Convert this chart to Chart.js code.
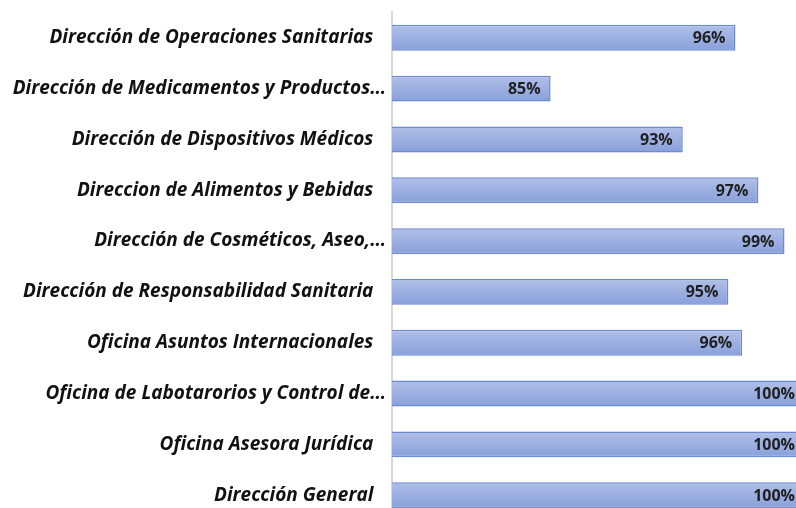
<!DOCTYPE html>
<html>
<head>
<meta charset="utf-8">
<script src="https://cdn.jsdelivr.net/npm/chart.js@4/dist/chart.umd.min.js"></script>
<style>
  html, body { margin: 0; padding: 0; background: #fff; overflow: hidden; }
  #avance { display: block; margin-top: -5px; }
</style>
</head>
<body>
<canvas id="avance" width="806" height="543"></canvas>
<script>
// categorias (de arriba hacia abajo)
const dependencias = [
  'Dirección de Operaciones Sanitarias',
  'Dirección de Medicamentos y Productos…',
  'Dirección de Dispositivos Médicos',
  'Direccion de Alimentos y Bebidas',
  'Dirección de Cosméticos, Aseo,…',
  'Dirección de Responsabilidad Sanitaria',
  'Oficina Asuntos Internacionales',
  'Oficina de Labotarorios y Control de…',
  'Oficina Asesora Jurídica',
  'Dirección General'
];
// cumplimiento (fraccion)
const cumplimiento = [0.9579, 0.8460, 0.9260, 0.9718, 0.9876, 0.9536, 0.9620, 1.0, 1.0, 1.0];
// etiquetas que se muestran en la barra
const etiquetas = ['96%', '85%', '93%', '97%', '99%', '95%', '96%', '100%', '100%', '100%'];

// etiquetas de valor dentro del final de la barra
const valorLabels = {
  id: 'valorLabels',
  afterDatasetsDraw(chart) {
    const ctx = chart.ctx;
    const meta = chart.getDatasetMeta(0);
    ctx.save();
    ctx.font = 'bold 16px "Open Sans", sans-serif';
    ctx.fillStyle = '#1f1f1f';
    ctx.textAlign = 'right';
    ctx.textBaseline = 'middle';
    meta.data.forEach(function(bar, i) {
      ctx.fillText(etiquetas[i], bar.x - 10, bar.y + 1);
    });
    ctx.restore();
  }
};

function barGradient(context) {
  const chart = context.chart;
  const y = chart.scales.y;
  if (!y || context.dataIndex === undefined) return '#9db0e0';
  const c = y.getPixelForValue(context.dataIndex);
  if (!isFinite(c)) return '#9db0e0';
  const g = chart.ctx.createLinearGradient(0, c - 13, 0, c + 13);
  g.addColorStop(0, '#b1c0e8');
  g.addColorStop(1, '#889fda');
  return g;
}

const ctx_av = document.getElementById('avance').getContext('2d');
new Chart(ctx_av, {
  type: 'bar',
  data: {
    labels: dependencias,
    datasets: [{
      data: cumplimiento,
      backgroundColor: barGradient,
      borderColor: '#6a8ad4',
      borderWidth: 1.5,
      borderSkipped: 'start',
      barPercentage: 1,
      categoryPercentage: 0.51
    }]
  },
  options: {
    indexAxis: 'y',
    responsive: false,
    animation: false,
    layout: { padding: { top: 0, right: 1, bottom: 0, left: 0 } },
    plugins: {
      legend: { display: false },
      tooltip: { enabled: false }
    },
    scales: {
      x: {
        min: 0.75,
        max: 1.0,
        display: false
      },
      y: {
        afterFit(scale) { scale.width = 392; },
        grid: { display: false, drawTicks: false },
        border: { display: true, color: '#d9d9d9', width: 2 },
        ticks: {
          color: '#111',
          padding: 6,
          callback(value) {
            const t = this.getLabelForValue(value);
            return t.endsWith('…') ? t : t + '\u2002\u2009';
          },
          font: { family: '"Open Sans", sans-serif', size: 19, weight: 'bold', style: 'italic' }
        }
      }
    }
  },
  plugins: [valorLabels]
});
</script>
</body>
</html>
